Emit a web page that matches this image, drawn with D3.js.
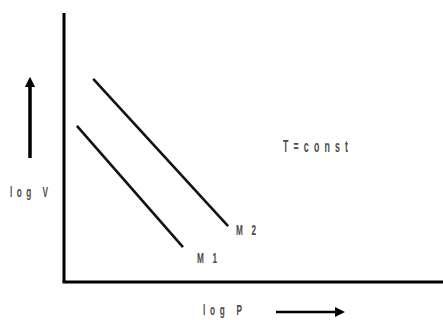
<!DOCTYPE html>
<html>
<head>
<meta charset="utf-8">
<script src="https://cdn.jsdelivr.net/npm/d3@7"></script>
<style>
  body { margin: 0; background: #fff; }
  text { font-family: "Liberation Sans", Arial, sans-serif; font-weight: bold; fill: #4a4a4a; }
</style>
</head>
<body>
<div id="chart"></div>
<script>
// isotherms, log P vs log V (arbitrary units)
var seriesNames = ["M 1", "M 2"];
var logP = [[0.34, 3.14], [0.77, 4.33]];
var logV = [[5.80, 1.30], [7.55, 2.08]];

var width = 443, height = 320;
var svg = d3.select("#chart").append("svg")
    .attr("width", width)
    .attr("height", height);

var x = d3.scaleLinear().domain([0, 10]).range([64, 443]);
var y = d3.scaleLinear().domain([0, 10]).range([282, 13]);

// narrow, widely spaced lettering like the scanned figure
var squeeze = 0.55;
function label(str, left, right, base, size) {
    svg.append("g")
        .attr("transform", "translate(" + left + "," + base + ") scale(" + squeeze + ",1)")
        .append("text")
        .attr("x", 0).attr("y", 0)
        .attr("font-size", size)
        .attr("textLength", (right - left) / squeeze)
        .attr("lengthAdjust", "spacing")
        .text(str);
}

// axes, plain lines with no ticks
svg.append("line")
    .attr("x1", x(0)).attr("y1", y(10))
    .attr("x2", x(0)).attr("y2", y(0))
    .attr("stroke", "#000").attr("stroke-width", 3);
svg.append("line")
    .attr("x1", x(0) - 1.5).attr("y1", y(0))
    .attr("x2", x(10)).attr("y2", y(0))
    .attr("stroke", "#000").attr("stroke-width", 3);

var line = d3.line()
    .x(function(d) { return x(d[0]); })
    .y(function(d) { return y(d[1]); });

seriesNames.forEach(function(name, i) {
    var pts = d3.zip(logP[i], logV[i]);
    svg.append("path")
        .attr("d", line(pts))
        .attr("fill", "none")
        .attr("stroke", "#111")
        .attr("stroke-width", 2.6);
    var last = pts[pts.length - 1];
    var lx = x(last[0]) + (i == 0 ? 14 : 8);
    var ly = y(last[1]) + (i == 0 ? 16 : 9);
    label(name, lx, lx + 20, ly, 15);
});

// labels
label("T=const", 283, 348, 152, 16);
label("log V", 10, 48, 197, 15);
label("log P", 203, 242, 315, 15);

// arrows
var defs = svg.append("defs");
defs.append("marker")
    .attr("id", "headUp")
    .attr("viewBox", "0 0 10 10")
    .attr("refX", 5).attr("refY", 5)
    .attr("markerWidth", 3).attr("markerHeight", 3)
    .attr("orient", "auto")
    .append("path")
    .attr("d", "M0,0 L10,5 L0,10 z")
    .attr("fill", "#000");
defs.append("marker")
    .attr("id", "head")
    .attr("viewBox", "0 0 10 10")
    .attr("refX", 5).attr("refY", 5)
    .attr("markerWidth", 4).attr("markerHeight", 4)
    .attr("orient", "auto")
    .append("path")
    .attr("d", "M0,0 L10,5 L0,10 z")
    .attr("fill", "#000");

svg.append("line")
    .attr("x1", 30).attr("y1", 158)
    .attr("x2", 30).attr("y2", 82)
    .attr("stroke", "#000").attr("stroke-width", 3.5)
    .attr("marker-end", "url(#headUp)");
svg.append("line")
    .attr("x1", 276).attr("y1", 312)
    .attr("x2", 340).attr("y2", 312)
    .attr("stroke", "#000").attr("stroke-width", 2.5)
    .attr("marker-end", "url(#head)");
</script>
</body>
</html>
